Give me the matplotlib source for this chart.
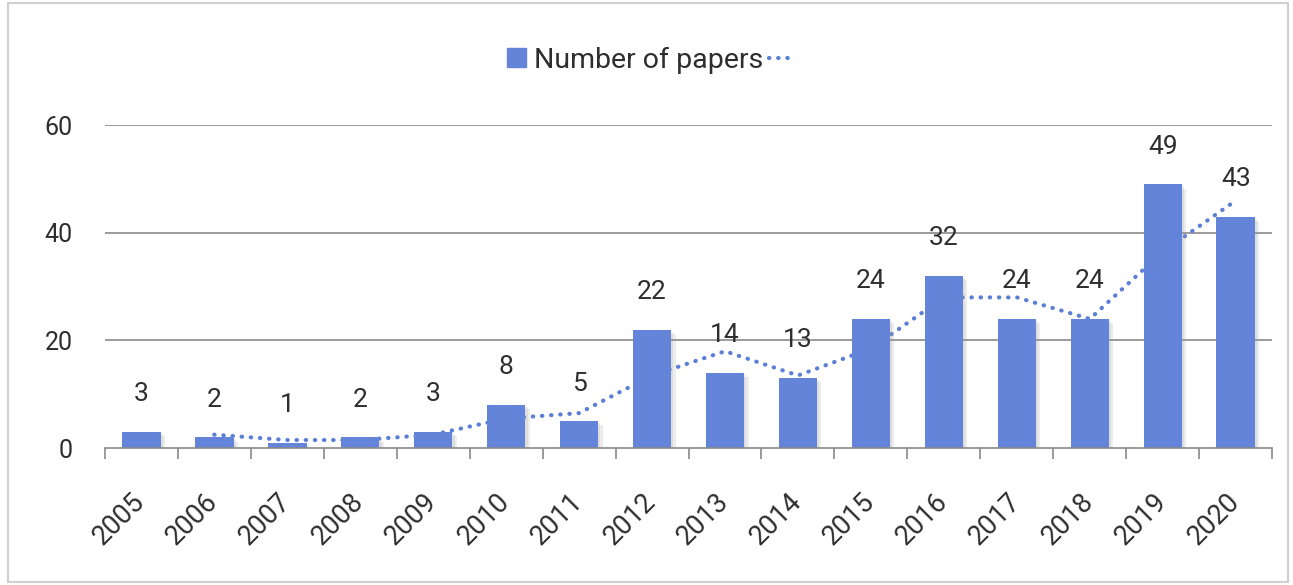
import matplotlib
matplotlib.use("Agg")
import matplotlib.pyplot as plt
import matplotlib.patheffects as path_effects
import matplotlib.transforms as transforms
from matplotlib.patches import Rectangle
from matplotlib.lines import Line2D

# values
years = ["2005", "2006", "2007", "2008", "2009", "2010", "2011", "2012",
         "2013", "2014", "2015", "2016", "2017", "2018", "2019", "2020"]
papers = [3, 2, 1, 2, 3, 8, 5, 22, 14, 13, 24, 32, 24, 24, 49, 43]
# dotted trend line (starts at 2006)
trend_years = years[1:]
trend = [2.5, 1.5, 1.5, 2.5, 5.5, 6.5, 13.5, 18, 13.5, 18.5, 28, 28, 24, 36.5, 46]

bar_colour = "#6484d9"
line_colour = "#5b7fd6"
text_colour = "#2e2e2e"
grid_colour = "#8a8a8a"
dots = (0, (0.1, 2.1))

plt.rcParams["font.family"] = ["Roboto", "DejaVu Sans"]

figure = plt.figure(figsize=(12.93, 5.85), dpi=100)
axes = figure.add_axes([0.081, 0.234, 0.903, 0.552])

x = list(range(len(years)))
trend_x = [years.index(y) for y in trend_years]

axes.plot(trend_x, trend, linestyle=dots, color=line_colour,
          linewidth=3.0, dash_capstyle="round", zorder=2)
bars = axes.bar(x, papers, width=0.53, color=bar_colour, zorder=3)
for bar in bars:
    bar.set_path_effects([
        path_effects.SimplePatchShadow(offset=(3, -3), shadow_rgbFace="#999999", alpha=0.18),
        path_effects.SimplePatchShadow(offset=(1.5, -1.5), shadow_rgbFace="#999999", alpha=0.18),
        path_effects.Normal()])

for xi, val in zip(x, papers):
    axes.text(xi, val + 7.0, str(val), ha="center", va="center",
              fontsize=19, color=text_colour, zorder=4)

axes.set_xlim(-0.5, len(years) - 0.5)
axes.set_ylim(0, 60)
axes.set_yticks([0, 20, 40, 60])
for yv in [20, 40, 60]:
    axes.axhline(yv, color=grid_colour, linewidth=1.2, zorder=1)

for side in ["top", "right", "left"]:
    axes.spines[side].set_visible(False)
axes.spines["bottom"].set_color(grid_colour)
axes.spines["bottom"].set_linewidth(1.2)
axes.spines["bottom"].set_zorder(5)

# tick marks at category boundaries, labels at centres
axes.set_xticks([i - 0.5 for i in range(len(years) + 1)])
axes.set_xticklabels([])
axes.tick_params(axis="x", length=8, color=grid_colour, width=1.2)
axes.set_xticks(x, minor=True)
axes.set_xticklabels(years, minor=True, rotation=45, ha="right",
                     rotation_mode="anchor", fontsize=19.5, color=text_colour)
axes.tick_params(axis="x", which="minor", length=0, pad=26)
shift = transforms.ScaledTranslation(-10 / 100, -4 / 100, figure.dpi_scale_trans)
for label in axes.get_xticklabels(minor=True):
    label.set_transform(label.get_transform() + shift)
axes.tick_params(axis="y", length=0, labelsize=18, labelcolor=text_colour,
                 pad=23)

handles = [Rectangle((0, 0), 1, 1, color=bar_colour),
           Line2D([0], [0], linestyle=dots, color=line_colour,
                  linewidth=3.0, dash_capstyle="round")]
legend = figure.legend(handles, ["Number of papers", ""], loc="center",
                       bbox_to_anchor=(0.504, 0.897), ncol=2, frameon=False,
                       fontsize=20.5, handlelength=0.65, handleheight=0.65,
                       columnspacing=0.2, handletextpad=0.3)
for t in legend.get_texts():
    t.set_color(text_colour)

# light frame around the picture
figure.patches.append(Rectangle((0.006, 0.005), 0.99, 0.99,
                                transform=figure.transFigure, fill=False,
                                edgecolor="#d0d0d0", linewidth=1.5))

figure.savefig("out.png", dpi=100)
